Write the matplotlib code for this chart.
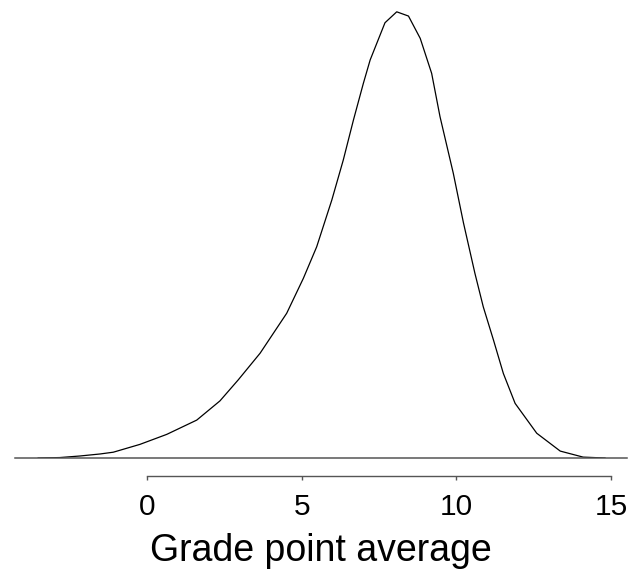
import matplotlib
matplotlib.use("Agg")
import matplotlib.pyplot as plt

# Density curve
gpa = [-3.53, -2.83, -2.18, -1.53, -1.10, -0.24, 0.63, 1.60, 2.35, 2.94, 3.65,
       4.51, 5.05, 5.48, 5.97, 6.34, 6.67, 6.99, 7.21, 7.69, 8.07, 8.45, 8.83,
       9.20, 9.47, 9.90, 10.23, 10.60, 10.87, 11.20, 11.52, 11.90, 12.60,
       13.36, 14.10, 14.81]
density = [0.0, 0.0002, 0.0009, 0.0018, 0.0026, 0.0061, 0.0106, 0.0170, 0.0256,
           0.0350, 0.0470, 0.0649, 0.0806, 0.0947, 0.1157, 0.1336, 0.1516,
           0.1680, 0.1785, 0.1952, 0.2001, 0.1982, 0.1882, 0.1725, 0.1531,
           0.1277, 0.1054, 0.0828, 0.0678, 0.0529, 0.0379, 0.0245, 0.0111,
           0.0031, 0.0004, 0.0]
xticks = [0, 5, 10, 15]
xlabel = "Grade point average"

plt.rcParams['font.family'] = ['Liberation Sans', 'DejaVu Sans']

W, H = 634, 572
fig = plt.figure(figsize=(W / 100, H / 100), dpi=100)
ax = fig.add_axes([15 / W, (H - 458) / H, (627 - 15) / W, 458 / H])

ax.plot(gpa, density, color='black', lw=0.9)
ax.axhline(0, color='#555555', lw=1.1, clip_on=False)

ax.set_xlim(-4.28, 15.52)
ax.set_ylim(0, 0.2054)

for s in ['top', 'right', 'left']:
    ax.spines[s].set_visible(False)
ax.spines['bottom'].set_position(('outward', 18 * 0.72))
ax.spines['bottom'].set_bounds(0, 15)
ax.spines['bottom'].set_color('#555555')
ax.spines['bottom'].set_linewidth(1.0)
ax.set_yticks([])
ax.set_xticks(xticks)
ax.set_xticklabels([str(t) for t in xticks])
ax.tick_params(axis='x', direction='out', length=3, width=1.0, color='#555555',
               labelsize=21.5, pad=9)

fig.text(321 / W, 1 - 551 / H, xlabel, ha='center', va='center', fontsize=27)

fig.savefig("out.png", dpi=100)
